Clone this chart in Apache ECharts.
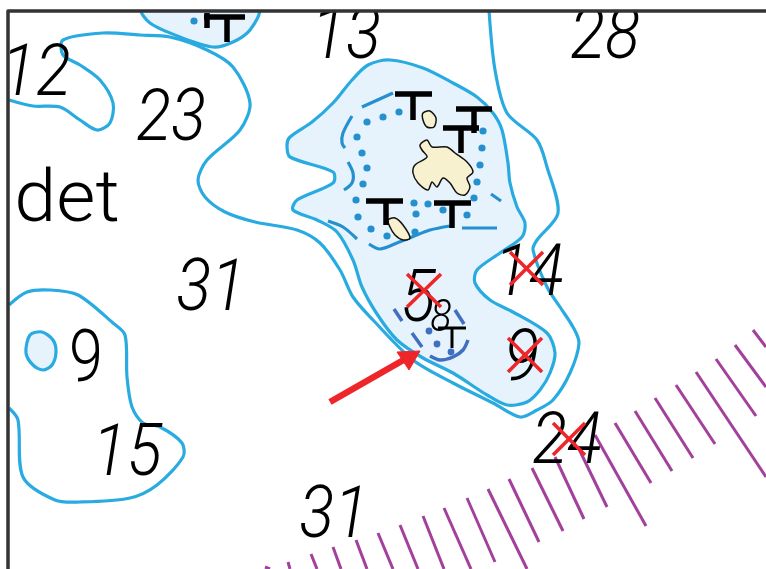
<!DOCTYPE html>
<html><head><meta charset="utf-8">
<style>html,body{margin:0;padding:0;background:#fff}#c{width:766px;height:569px}</style>
<script src="https://cdn.jsdelivr.net/npm/echarts@6/dist/echarts.min.js"></script>
</head><body><div id="c"></div>
<script>
// --- shoal areas (filled depth contours) ---
const topShoal=[[142,10],[150,23],[180,37],[213,47],[233,42],[250,30],[258,10]];
const mainShoal=[[287,145],[290,137],[312,122],[333,103],[352,80],[368,65],[390,60],[423,68],[453,83],[477,97],[493,113],[502,130],[508,163],[510,183],[517,207],[525,223],[522,237],[500,253],[477,270],[475,283],[490,300],[513,312],[547,333],[555,353],[550,373],[540,390],[527,402],[507,405],[487,395],[453,373],[423,358],[397,340],[377,314],[362,287],[353,260],[337,232],[317,220],[293,210],[297,200],[333,183],[333,172],[290,157]];
const pond=[[26,353],[30,335],[42,332],[53,340],[56,352],[52,365],[43,370],[33,365]];
// --- open depth contours ---
const contourWest=[[9,100],[33,106],[60,107],[80,120],[97,130],[110,123],[113,103],[100,80],[80,65],[63,55],[63,40],[103,33],[140,35],[170,37],[207,50],[233,67],[250,103],[240,130],[207,160],[198,180],[205,197],[225,212],[255,222],[297,230],[320,243],[340,270],[353,297],[373,320],[413,360],[453,383],[493,403],[520,417],[537,410],[553,400],[570,373],[579,343],[573,327],[560,307],[547,287],[533,250],[537,240],[558,213],[547,167],[537,140],[507,113],[495,70],[489,10]];
const contourSW=[[9,305],[27,292],[50,290],[78,295],[113,323],[125,335],[127,377],[132,407],[143,423],[160,427],[182,443],[183,457],[157,485],[130,498],[80,502],[55,500],[23,477],[18,420],[9,408]];
// --- dashed symbols ---
const blueDashes=[[[362,107],[393,93]],[[352,116],[343,133],[342,143],[345,148]],[[348,162],[353,173],[352,183],[344,190]],[[328,221],[343,227],[357,239]],[[369,244],[380,249],[397,243],[412,237],[430,230],[450,226]],[[462,228],[497,228]],[[491,194],[501,201]]];
const darkDashes=[[[394,309],[402,321]],[[455,310],[464,324]],[[412,333],[422,347]],[[430,356],[440,360],[453,357],[463,350],[468,340]]];
const blueDots=[[194,21],[399,112],[383,117],[367,122],[357,137],[362,153],[367,168],[363,184],[356,200],[358,217],[371,229],[387,236],[415,232],[416,214],[414,203],[428,204],[443,210],[467,215],[474,198],[477,182],[480,165],[482,148],[483,131]];
const darkDots=[[429,331],[437,344],[451,352]];
// --- land ---
const island=[[420,145],[427,140],[432,147],[447,147],[455,153],[467,162],[473,172],[467,178],[470,187],[465,195],[457,193],[450,183],[443,178],[437,187],[432,182],[428,190],[418,183],[413,173],[415,165],[427,157],[422,150]];
const islet1=[[423,113],[430,111],[436,118],[434,127],[427,127],[423,120]];
const islet2=[[388,220],[395,218],[403,225],[410,238],[403,240],[395,235],[390,227]];
// --- black T marks ---
const tMarks=[[[395,94],[432,94]],[[413,94],[413,120]],[[456,109],[492,109]],[[474,109],[474,133]],[[443,128],[479,128]],[[461,128],[461,153]],[[366,201],[403,201]],[[386,201],[386,225]],[[434,203],[471,203]],[[452,203],[452,228]],[[204,17],[245,17]],[[207,13],[207,28]],[[227,17],[227,42]]];
const tSmall=[[[438,328],[466,328]],[[452,328],[452,348]]];
// --- purple hatching ---
const hatch=[[[265,567],[270,569]],[[288,562],[290,569]],[[311,554],[317,569]],[[333,547],[341,569]],[[356,540],[367,569]],[[378,533],[393,569]],[[400,525],[418,569]],[[423,516],[444,569]],[[444,508],[471,569]],[[467,498],[495,562]],[[488,489],[527,569]],[[509,479],[539,542]],[[532,468],[563,531]],[[555,457],[584,519]],[[578,447],[607,507]],[[595,435],[646,526]],[[615,423],[651,483]],[[635,411],[672,471]],[[655,398],[693,458]],[[676,385],[715,444]],[[696,372],[766,477]],[[716,359],[756,416]],[[735,345],[766,387]],[[753,330],[766,347]]];
// --- red marks ---
const crosses=[[[407,307],[441,274]],[[407,274],[441,307]],[[510,252],[543,285]],[[510,285],[543,252]],[[508,338],[542,372]],[[508,372],[542,338]],[[553,423],[585,455]],[[553,455],[585,423]]];
const arrowShaft=[[[330,402],[407,358]]];
const arrowHead=[[420,351],[397,352],[409,370]];
// --- frame ---
const frame=[[[8,569],[8,11],[766,11]]];
const topBand=[[0,0],[766,0],[766,10],[0,10]];
// --- soundings and words ---
const soundings=[["12",36,77],["23",171,122],["13",346,40],["28",605,40],["31",211,292],["15",127,457],["31",334,519],["14",529,277],["5",418,303],["9",522,362],["24",567,445]];
const smallSoundings=[["8",441,320]];
const wordDet=[["det",67,203]];
const wordNine=[["9",86,363]];

const BLUE='#29ABE2',PALE='#E6F3FC',DASH='#2590CF',DARK='#3F6FC0',RED='#EE2529',PURPLE='#A2409B',LAND='#F8F1D0',INK='#000';

function custom(items,build,z){
  return {type:'custom',coordinateSystem:'cartesian2d',silent:true,clip:true,z:z,animation:false,
    data:items.map((_,i)=>[i]),encode:{x:0,y:0},
    renderItem:(p,api)=>build(items[p.dataIndex],api)};
}
const pts=(a,api)=>a.map(q=>api.coord(q));
const polygons=(items,fill,stroke,lw,smooth,z)=>custom(items,(a,api)=>({type:'polygon',shape:{points:pts(a,api),smooth:smooth},style:{fill:fill,stroke:stroke,lineWidth:lw}}),z);
const lines=(items,stroke,lw,smooth,z,cap)=>custom(items,(a,api)=>({type:'polyline',shape:{points:pts(a,api),smooth:smooth},style:{fill:null,stroke:stroke,lineWidth:lw,lineCap:cap||'butt',lineJoin:'round'}}),z);
const dots=(items,fill,r,z)=>custom(items,(a,api)=>{const c=api.coord(a);return {type:'circle',shape:{cx:c[0],cy:c[1],r:r},style:{fill:fill}};},z);
const texts=(items,font,sx,z)=>custom(items,(a,api)=>{const c=api.coord([a[1],a[2]]);return {type:'text',x:c[0],y:c[1],scaleX:sx,style:{text:a[0],x:0,y:0,font:font,fill:INK,align:'center',verticalAlign:'middle'}};},z);

const chart=echarts.init(document.getElementById('c'),null,{renderer:'canvas'});
chart.setOption({
  animation:false,backgroundColor:'#fff',
  grid:{left:0,right:0,top:0,bottom:0},
  xAxis:{type:'value',min:0,max:766,show:false},
  yAxis:{type:'value',min:0,max:569,inverse:true,show:false},
  series:[
    polygons([topShoal,mainShoal,pond],PALE,BLUE,3.2,0.3,1),
    lines([contourWest,contourSW],BLUE,3.2,0.3,2),
    lines(hatch,PURPLE,3,0,2),
    lines(blueDashes,DASH,3.2,0.3,3),
    lines(darkDashes,DARK,3.5,0.3,3),
    dots(blueDots,DASH,3.6,3),
    dots(darkDots,DARK,3.4,3),
    polygons([island,islet1,islet2],LAND,'#111',1.5,0.3,4),
    texts(soundings,"italic 300 72px Roboto",0.9,5),
    texts(smallSoundings,"italic 300 44px Roboto",0.9,5),
    texts(wordDet,"300 72px Roboto",1.05,5),
    texts(wordNine,"300 72px Roboto",0.85,5),
    lines(tMarks,INK,5.5,0,6),
    lines(tSmall,INK,3,0,6),
    lines(crosses,RED,3.5,0,7),
    lines(arrowShaft,RED,6.5,0,7),
    polygons([arrowHead],RED,RED,1,0,7),
    polygons([topBand],'#fff','#fff',1,0,8),
    lines(frame,'#333',3.5,0,9)
  ]
});
</script></body></html>
